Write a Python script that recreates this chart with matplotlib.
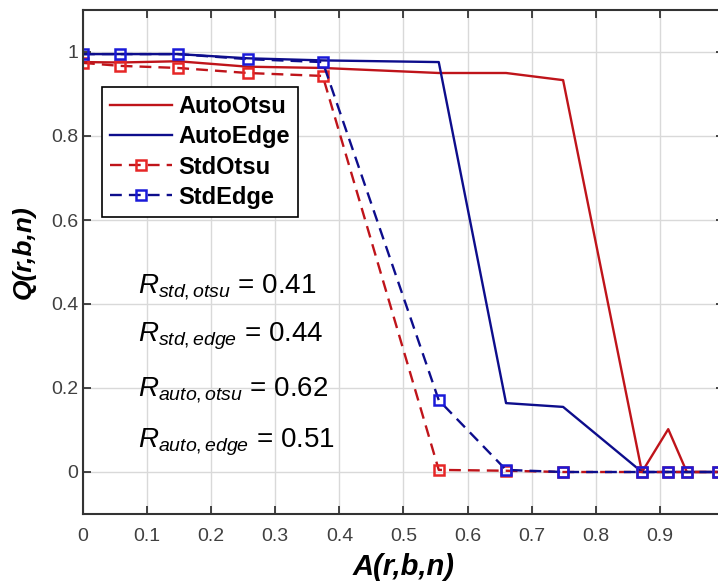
import numpy as np
import matplotlib
matplotlib.use("Agg")
import matplotlib.pyplot as plt

plt.rcParams['font.family'] = ['Liberation Sans', 'DejaVu Sans']
plt.rcParams['mathtext.fontset'] = 'custom'
plt.rcParams['mathtext.rm'] = 'Liberation Sans'
plt.rcParams['mathtext.it'] = 'Liberation Sans:italic'

# data
a_vals = [0.0, 0.058, 0.148, 0.257, 0.374, 0.555, 0.66, 0.749, 0.872, 0.913, 0.942, 0.99]
auto_otsu = [0.976, 0.975, 0.978, 0.965, 0.962, 0.95, 0.95, 0.933, 0.0, 0.102, 0.0, 0.0]
auto_edge = [0.995, 0.995, 0.995, 0.985, 0.98, 0.976, 0.164, 0.155, 0.0, 0.0, 0.0, 0.0]
std_otsu = [0.974, 0.967, 0.962, 0.95, 0.943, 0.005, 0.003, 0.0, 0.0, 0.0, 0.0, 0.0]
std_edge = [0.995, 0.995, 0.995, 0.983, 0.976, 0.171, 0.005, 0.0, 0.0, 0.0, 0.0, 0.0]

r_labels = ['std,otsu', 'std,edge', 'auto,otsu', 'auto,edge']
r_values = [0.41, 0.44, 0.62, 0.51]

red_line = (0.75, 0.08, 0.10)
red_mark = (0.90, 0.15, 0.15)
blue_line = (0.05, 0.05, 0.55)
blue_mark = (0.10, 0.10, 0.85)

fig = plt.figure(figsize=(7.18, 5.86), dpi=100)
ax = fig.add_axes([83/718, 72/586, 641/718, 504/586])

ax.plot(a_vals, auto_otsu, '-', color=red_line, lw=1.7, label='AutoOtsu')
ax.plot(a_vals, auto_edge, '-', color=blue_line, lw=1.7, label='AutoEdge')
ax.plot(a_vals, std_otsu, linestyle=(0, (5, 3)), color=red_line, lw=1.7,
        marker='s', ms=7, mfc='none', mec=red_mark, mew=1.8, label='StdOtsu')
ax.plot(a_vals, std_edge, linestyle=(0, (5, 3)), color=blue_line, lw=1.7,
        marker='s', ms=7, mfc='none', mec=blue_mark, mew=1.8, label='StdEdge')

ax.set_xlim(0, 1)
ax.set_ylim(-0.1, 1.1)
ax.set_xticks(np.arange(0, 1.0, 0.1))
ax.set_xticklabels(['0', '0.1', '0.2', '0.3', '0.4', '0.5', '0.6', '0.7', '0.8', '0.9'])
ax.set_yticks([0, 0.2, 0.4, 0.6, 0.8, 1])
ax.set_yticklabels(['0', '0.2', '0.4', '0.6', '0.8', '1'])
ax.tick_params(direction='in', length=6, width=1.2, top=True, right=True,
               labelsize=14, labelcolor=(0.25, 0.25, 0.25), color=(0.15, 0.15, 0.15))
ax.tick_params(axis='x', pad=10)
ax.grid(True, color=(0.85, 0.85, 0.85), lw=1)
ax.set_axisbelow(True)
for s in ax.spines.values():
    s.set_color((0.2, 0.2, 0.2))
    s.set_linewidth(1.5)

ax.set_xlabel('A(r,b,n)', fontsize=21, fontweight='bold', style='italic', labelpad=6)
ax.set_ylabel('Q(r,b,n)', fontsize=19, fontweight='bold', style='italic')
ax.yaxis.set_label_coords(-0.073, 0.52)

ys = [0.44, 0.322, 0.195, 0.07]
for lab, val, y in zip(r_labels, r_values, ys):
    ax.text(0.086, y, r'$R_{%s}$ = %.2f' % (lab, val), fontsize=20, va='center')

leg = ax.legend(loc='upper left', bbox_to_anchor=(0.0296, 0.847), borderaxespad=0,
                fancybox=False, edgecolor='black', framealpha=1, numpoints=1,
                handlelength=2.6, handletextpad=0.3, labelspacing=0.3,
                borderpad=0.35, prop={'size': 17, 'weight': 'bold'})
leg.get_frame().set_linewidth(1.2)

fig.savefig('out.png', dpi=100)
